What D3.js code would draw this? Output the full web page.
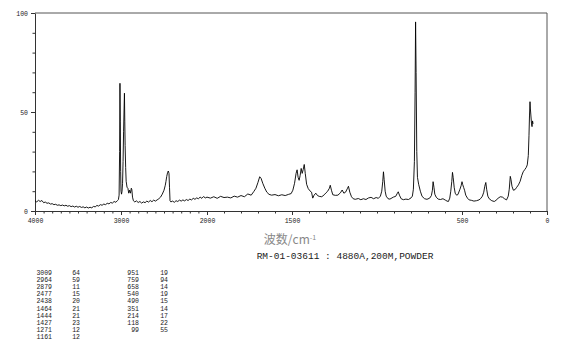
<!DOCTYPE html>
<html>
<head>
<meta charset="utf-8">
<script src="https://cdn.jsdelivr.net/npm/d3@7"></script>
<style>
  body { margin: 0; background: #fff; }
  svg { display: block; }
  .tick text { font-family: "Liberation Mono", monospace; font-size: 6.5px; fill: #222; }
</style>
</head>
<body>
<div id="chart"></div>
<script>
var width = 570, height = 346;

// spectrum: wavenumber (cm-1) and intensity
var wavenumbers = [4000, 3980, 3960, 3940, 3920, 3900, 3880, 3860, 3840, 3820, 3800, 3780, 3760, 3740, 3720, 3700,
  3680, 3660, 3640, 3620, 3600, 3580, 3560, 3540, 3520, 3500, 3480, 3460, 3440, 3420, 3400, 3380, 3360, 3340, 3320,
  3300, 3280, 3260, 3240, 3220, 3200, 3180, 3160, 3140, 3120, 3100, 3080, 3060, 3040, 3030, 3022, 3016, 3012, 3008,
  3004, 3000, 2994, 2988, 2982, 2976, 2970, 2964, 2960, 2956, 2952, 2946, 2940, 2930, 2920, 2910, 2900, 2890, 2880,
  2874, 2866, 2856, 2840, 2820, 2800, 2780, 2760, 2740, 2720, 2700, 2680, 2660, 2640, 2620, 2600, 2580, 2560, 2540,
  2520, 2500, 2485, 2477, 2468, 2458, 2450, 2442, 2436, 2430, 2420, 2400, 2380, 2360, 2340, 2320, 2300, 2280, 2260,
  2240, 2220, 2200, 2180, 2160, 2140, 2120, 2100, 2080, 2060, 2040, 2020, 2000, 1980, 1960, 1940, 1920, 1900, 1880,
  1860, 1840, 1820, 1800, 1780, 1760, 1740, 1725, 1712, 1700, 1690, 1682, 1672, 1660, 1648, 1635, 1620, 1600, 1580,
  1560, 1540, 1520, 1505, 1495, 1485, 1476, 1470, 1464, 1458, 1452, 1446, 1440, 1434, 1428, 1422, 1414, 1405, 1395,
  1385, 1378, 1370, 1360, 1350, 1340, 1325, 1310, 1300, 1290, 1280, 1275, 1268, 1260, 1245, 1230, 1215, 1205, 1195,
  1185, 1175, 1168, 1160, 1150, 1140, 1128, 1110, 1095, 1080, 1065, 1050, 1035, 1020, 1005, 992, 980, 972, 966, 962,
  958, 952, 946, 935, 924, 912, 904, 890, 880, 875, 868, 858, 845, 830, 815, 800, 792, 786, 780, 776, 773, 770, 766,
  762, 755, 745, 735, 720, 706, 690, 680, 674, 670, 665, 660, 652, 640, 627, 612, 598, 588, 580, 572, 566, 560, 556,
  552, 546, 540, 532, 524, 512, 505, 500, 496, 490, 485, 478, 468, 458, 445, 430, 415, 400, 390, 380, 372, 366, 360,
  355, 348, 340, 325, 310, 300, 288, 275, 262, 250, 238, 228, 222, 216, 212, 206, 198, 188, 178, 168, 158, 148, 140,
  130, 122, 116, 110, 106, 103, 100, 98, 95, 91, 88, 85, 82];
var intensities = [5.2, 4.6, 5.4, 4.8, 5.3, 4.2, 4.5, 3.9, 4.1, 3.5, 3.7, 3.2, 3.4, 2.9, 3.1, 2.7,
  3.0, 2.6, 2.9, 2.4, 2.7, 2.2, 2.5, 2.0, 2.4, 1.9, 2.3, 1.8, 2.1, 1.6, 2.0, 1.5, 1.9, 1.6, 2.3,
  2.1, 2.8, 2.5, 3.2, 2.9, 3.5, 3.2, 3.9, 3.6, 4.3, 4.0, 4.8, 4.4, 5.3, 5.8, 8, 30, 64.5, 45,
  20, 10, 8.5, 10, 14, 25, 40, 52, 59.5, 45, 33, 22, 15, 12, 11.5, 9, 10.5, 9, 11.5,
  10.8, 7, 5.2, 4.6, 5.1, 4.3, 4.8, 4.0, 4.6, 4.2, 5.0, 4.5, 5.3, 4.7, 5.5, 5.0, 5.6, 6.2, 7.0,
  8.5, 10.5, 13, 15, 17.5, 19.5, 20.2, 19.0, 12, 5.2, 4.6, 5.0, 4.4, 5.2, 4.8, 5.5, 5.0, 5.6, 5.1,
  5.8, 5.3, 6.0, 5.6, 6.4, 5.9, 6.6, 6.2, 7.0, 6.4, 7.3, 6.6, 7.0, 6.5, 7.2, 6.4, 7.4, 6.8, 7.0,
  6.6, 7.5, 7.0, 7.8, 7.2, 8.6, 8.0, 9.8, 11.5, 14.5, 17.3, 16.5, 14, 11.5, 9.5, 8.4, 8.0, 8.3, 7.7,
  8.2, 7.8, 8.4, 8.8, 10.5, 14, 19, 20.8, 17, 15.5, 18, 21.5, 19, 21, 23.5, 19, 13.5, 11.4, 10.2,
  9.5, 6.5, 8.0, 9.0, 7.8, 7.4, 7.2, 8.2, 9.2, 10.0, 11.5, 13.0, 10.5, 8.2, 7.9, 8.0, 9.2, 10.6, 9.0,
  9.5, 11.2, 12.5, 9.5, 7.2, 6.2, 5.9, 6.3, 5.7, 6.2, 5.8, 6.6, 6.9, 6.2, 6.8, 6.4, 7.5, 10, 15, 19.8,
  16, 10, 7.5, 6.2, 6.0, 6.6, 7.0, 7.4, 9.0, 9.7, 8.0, 6.2, 5.7, 6.0, 5.8, 6.6, 7.5, 11, 25, 60, 95.5, 70, 30,
  17, 13.5, 10, 7.4, 6.2, 5.9, 6.5, 7.8, 10.5, 14.8, 12, 8.5, 7.0, 6.0, 5.8, 6.2, 5.5, 5.0, 4.8, 6.5, 10, 15, 19.5,
  17, 12, 9.0, 8.0, 8.3, 11, 12.8, 14.8, 13.4, 11.8, 10.5, 8.0, 6.5, 5.6, 5.4, 5.0, 5.2, 5.6, 6.3, 7.5, 9.5, 12.5, 14.4,
  11.0, 7.5, 6.2, 5.2, 4.8, 5.4, 6.4, 7.2, 7.0, 6.2, 5.6, 7.5, 11, 17.5, 16, 12.5, 10.5, 10.8, 12.0, 13.2, 15.0, 18.0, 19.8,
  21.0, 22.0, 23.3, 28, 38, 48, 55.2, 52, 48.5, 44, 42.6, 45.5, 44];

// axis ticks
var xMajor = [4000, 3000, 2000, 1500, 500, 0];
var xMinor = d3.range(0, 4001, 100);
var yMajor = [0, 50, 100];
var yMinor = d3.range(0, 101, 10);

// peak table
var peakPos1 = ["3009", "2964", "2879", "2477", "2438", "1464", "1444", "1427", "1271", "1161"];
var peakInt1 = ["64", "59", "11", "15", "20", "21", "21", "23", "12", "12"];
var peakPos2 = ["951", "759", "658", "540", "490", "351", "214", "118", "99"];
var peakInt2 = ["19", "94", "14", "19", "15", "14", "17", "22", "55"];

var xTitle = "波数/cm";
var sampleInfo = "RM-01-03611 : 4880A,200M,POWDER";

var svg = d3.select("#chart").append("svg")
    .attr("width", width)
    .attr("height", height);

// the x axis is compressed 2x above 2000 cm-1
var x = d3.scaleLinear().domain([4000, 2000, 0]).range([35, 207, 547]);
var y = d3.scaleLinear().domain([0, 100]).range([211, 13]);

// frame top + right
svg.append("path")
    .attr("d", "M" + x(4000) + "," + y(100) + "H" + x(0) + "V" + y(0))
    .attr("fill", "none")
    .attr("stroke", "#555")
    .attr("stroke-width", 1);

// minor ticks
svg.append("g")
    .attr("transform", "translate(0," + y(0) + ")")
    .call(d3.axisBottom(x).tickValues(xMinor).tickSize(2.5).tickFormat(""))
    .call(function (g) { g.select(".domain").remove(); });
svg.append("g")
    .attr("transform", "translate(" + x(4000) + ",0)")
    .call(d3.axisLeft(y).tickValues(yMinor).tickSize(2.5).tickFormat(""))
    .call(function (g) { g.select(".domain").remove(); });

// major ticks and labels
var gx = svg.append("g")
    .attr("transform", "translate(0," + y(0) + ")")
    .call(d3.axisBottom(x).tickValues(xMajor).tickFormat(d3.format("d"))
        .tickSize(4).tickSizeOuter(0).tickPadding(3));
var gy = svg.append("g")
    .attr("transform", "translate(" + x(4000) + ",0)")
    .call(d3.axisLeft(y).tickValues(yMajor).tickFormat(d3.format("d"))
        .tickSize(4).tickSizeOuter(0).tickPadding(3));

svg.selectAll(".domain").attr("stroke", "#333");
svg.selectAll(".tick line").attr("stroke", "#333");

// spectrum
var line = d3.line()
    .x(function (d) { return x(d); })
    .y(function (d, i) { return y(intensities[i]); });

svg.append("path")
    .datum(wavenumbers)
    .attr("d", line)
    .attr("fill", "none")
    .attr("stroke", "#000")
    .attr("stroke-width", 0.9)
    .attr("stroke-linejoin", "round");

// axis title
var t = svg.append("text")
    .attr("x", 290)
    .attr("y", 244)
    .attr("text-anchor", "middle")
    .style("font-family", "'Noto Sans CJK SC', sans-serif")
    .style("font-size", "12px")
    .style("fill", "#888")
    .text(xTitle);
t.append("tspan")
    .attr("dy", -4)
    .style("font-size", "7px")
    .text("-1");

svg.append("text")
    .attr("x", 345)
    .attr("y", 259)
    .attr("text-anchor", "middle")
    .style("font-family", "'Liberation Mono', monospace")
    .style("font-size", "9.5px")
    .style("fill", "#222")
    .text(sampleInfo);

// peak list
var rowY = d3.scaleLinear().domain([0, 9]).range([275, 339]);
var table = svg.append("g")
    .style("font-family", "'Liberation Mono', monospace")
    .style("font-size", "6.5px")
    .style("fill", "#222");

function column(vals, xr) {
    table.selectAll(null)
        .data(vals)
        .enter().append("text")
        .attr("x", xr)
        .attr("y", function (d, i) { return rowY(i); })
        .attr("text-anchor", "end")
        .text(function (d) { return d; });
}
column(peakPos1, 52);
column(peakInt1, 80);
column(peakPos2, 139);
column(peakInt2, 168);
</script>
</body>
</html>
